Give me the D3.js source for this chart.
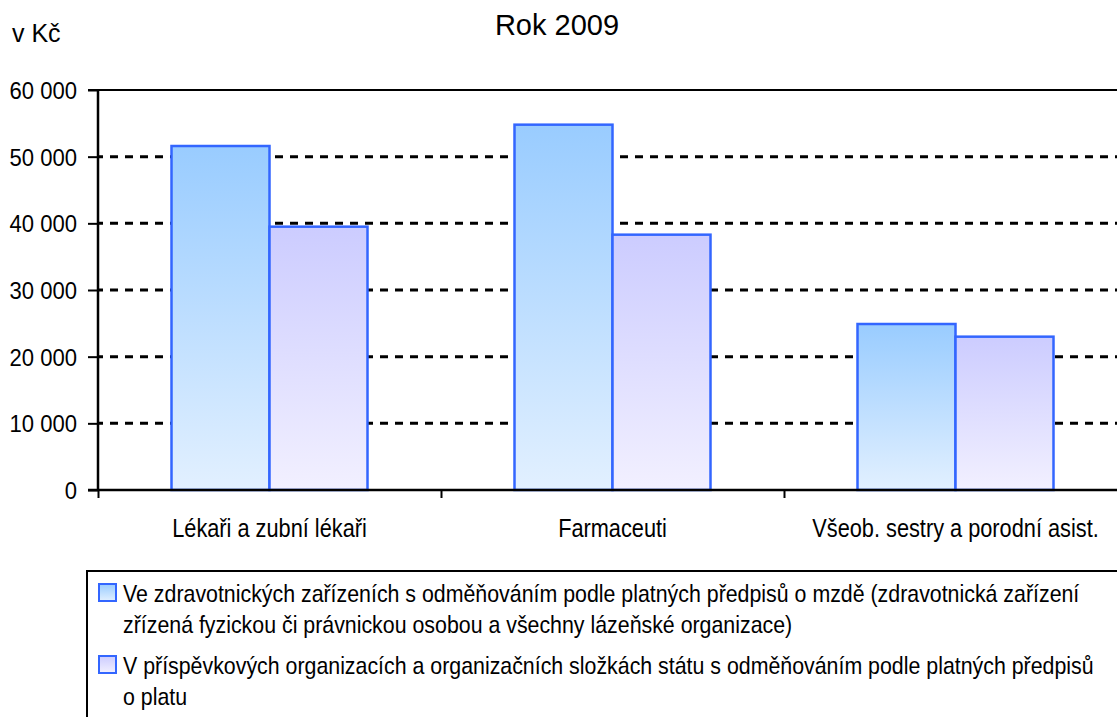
<!DOCTYPE html>
<meta charset="utf-8">
<style>
  body { margin: 0; background: #fff; }
  text { font-family: "Liberation Sans", Arial, sans-serif; fill: #000; }
</style>
<svg width="1117" height="717"></svg>
<script src="https://d3js.org/d3.v7.min.js"></script>
<script>

  // data
  var categories = ["Lékaři a zubní lékaři", "Farmaceuti", "Všeob. sestry a porodní asist."];
  var seriesKeys = ["mzda", "plat"];
  var seriesNames = [
    ["Ve zdravotnických zařízeních s odměňováním podle platných předpisů o mzdě (zdravotnická zařízení",
     "zřízená fyzickou či právnickou osobou a všechny lázeňské organizace)"],
    ["V příspěvkových organizacích a organizačních složkách státu s odměňováním podle platných předpisů",
     "o platu"]
  ];
  var mzda = [51600, 54800, 24900];
  var plat = [39500, 38300, 23000];
  var yTicks = [0, 10000, 20000, 30000, 40000, 50000, 60000];

  var data = categories.map(function(c, i) { return {cat: c, mzda: mzda[i], plat: plat[i]}; });

  var svg = d3.select("svg");
  var defs = svg.append("defs");

  var grads = [["#99ccff", "#e2f0ff"], ["#ccccff", "#f2f0ff"]];
  grads.forEach(function(g, i) {
    var lg = defs.append("linearGradient").attr("id", "g" + i)
        .attr("x1", 0).attr("y1", 0).attr("x2", 0).attr("y2", 1);
    lg.append("stop").attr("offset", "0%").attr("stop-color", g[0]);
    lg.append("stop").attr("offset", "100%").attr("stop-color", g[1]);
  });

  var x0 = d3.scaleBand().domain(categories).range([98, 1127]).padding(0);
  var x1 = d3.scaleBand().domain(seriesKeys).range([0, x0.bandwidth()]).paddingInner(0).paddingOuter(0.75);
  var y = d3.scaleLinear().domain([0, 60000]).range([490, 90]);

  var fmt = function(d) { return d3.format(",")(d).replace(/,/g, " "); };

  // squeezed text helper (the source text is horizontally condensed)
  function label(x, yy, str, size, k, anchor) {
    return svg.append("text")
        .attr("transform", "translate(" + x + "," + yy + ") scale(" + k + ",1)")
        .attr("text-anchor", anchor || "start")
        .style("font-size", size + "px")
        .text(str);
  }

  // grid lines
  svg.append("g").selectAll("line")
      .data(yTicks.filter(function(d) { return d > 0 && d < 60000; }))
      .enter().append("line")
      .attr("x1", 99).attr("x2", 1117)
      .attr("y1", function(d) { return y(d); }).attr("y2", function(d) { return y(d); })
      .attr("stroke", "#000").attr("stroke-width", 3)
      .attr("stroke-dasharray", "8 7").attr("stroke-dashoffset", 4);

  // top line
  svg.append("line").attr("x1", 88).attr("x2", 1117)
      .attr("y1", y(60000)).attr("y2", y(60000))
      .attr("stroke", "#000").attr("stroke-width", 2);

  // bars
  var groups = svg.append("g").selectAll("g")
      .data(data).enter().append("g")
      .attr("transform", function(d) { return "translate(" + x0(d.cat) + ",0)"; });

  groups.selectAll("rect")
      .data(function(d) { return seriesKeys.map(function(k, i) { return {key: k, i: i, value: d[k]}; }); })
      .enter().append("rect")
      .attr("x", function(d) { return x1(d.key); })
      .attr("width", x1.bandwidth())
      .attr("y", function(d) { return y(d.value); })
      .attr("height", function(d) { return y(0) - y(d.value); })
      .attr("fill", function(d) { return "url(#g" + d.i + ")"; })
      .attr("stroke", "#3366ff").attr("stroke-width", 2.5);

  // y axis
  var yAxis = svg.append("g").attr("transform", "translate(98,0)")
      .call(d3.axisLeft(y).tickValues(yTicks).tickSize(10).tickFormat(""));
  yAxis.select(".domain").attr("stroke-width", 2.5).attr("d", "M0,90V490");
  yAxis.selectAll(".tick line").attr("stroke-width", 2);

  yTicks.forEach(function(t) {
    label(77, y(t) + 9, fmt(t), 24, 0.92, "end");
  });

  // x axis
  var xAxis = svg.append("g").attr("transform", "translate(0,490)")
      .call(d3.axisBottom(d3.scaleLinear().domain([0, 3]).range([98, 1127]))
        .tickValues([0, 1, 2]).tickSize(8).tickFormat(""));
  xAxis.select(".domain").attr("stroke-width", 2.5).attr("d", "M88,0H1117");
  xAxis.selectAll(".tick line").attr("stroke-width", 2);

  categories.forEach(function(c) {
    label(x0(c) + x0.bandwidth() / 2, 537, c, 25, 0.87, "middle");
  });

  // titles
  label(557, 35, "Rok 2009", 29, 1, "middle");
  label(12, 42, "v Kč", 25, 1);

  // legend
  svg.append("rect").attr("x", 87).attr("y", 571).attr("width", 1100).attr("height", 200)
      .attr("fill", "none").attr("stroke", "#000").attr("stroke-width", 2);

  var legY = [[602, 633], [674, 705]];
  seriesNames.forEach(function(lines, i) {
    svg.append("rect").attr("x", 99).attr("y", legY[i][0] - 18).attr("width", 17).attr("height", 17)
        .attr("fill", "url(#g" + i + ")").attr("stroke", "#3366ff").attr("stroke-width", 2);
    lines.forEach(function(l, j) {
      label(123, legY[i][j], l, 24, 0.89);
    });
  });

</script>
